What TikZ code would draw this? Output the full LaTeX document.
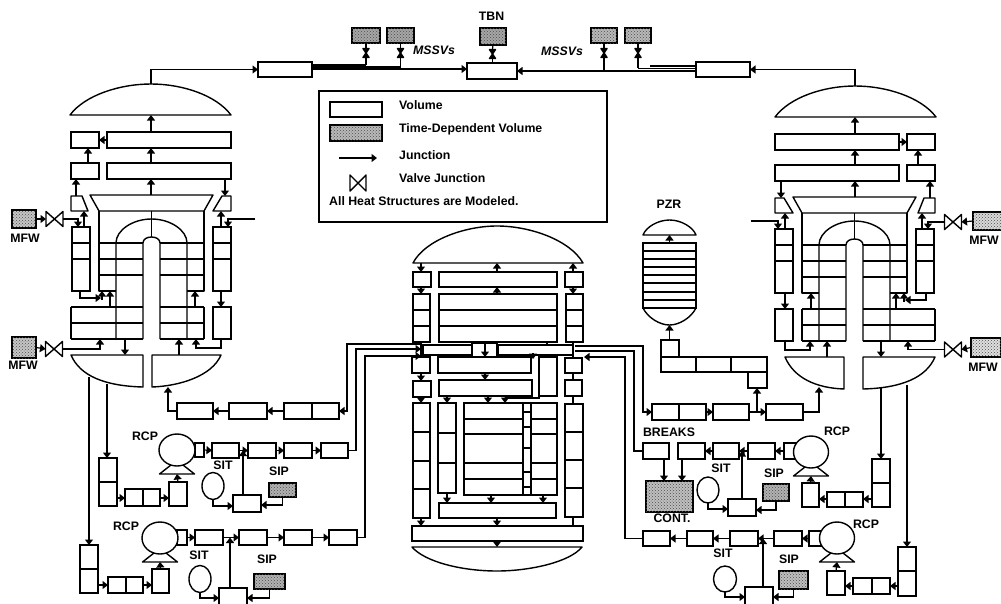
\documentclass[tikz,border=0pt]{standalone}
\usepackage{fontspec}
\setmainfont{Liberation Sans}
\usetikzlibrary{arrows.meta,shapes.geometric,patterns}
\tikzset{
  wall/.style={draw=black,line width=1.4pt,line join=round},
  vol/.style={draw=black,line width=1.4pt,fill=white,inner sep=0pt,outer sep=0pt,rectangle},
  tdv/.style={draw=black,line width=1.8pt,fill=gray!45,inner sep=0pt,outer sep=0pt,rectangle,postaction={pattern=crosshatch dots,pattern color=black!70}},
  jn/.style={draw=black,line width=1.2pt,-{Triangle[length=5.5pt,width=8pt]}},
  pl/.style={draw=black,line width=1.2pt},
  tank/.style={draw=black,line width=1.4pt,fill=white,ellipse,inner sep=0pt,outer sep=0pt},
  lab/.style={font=\fontsize{12.3}{13}\selectfont\bfseries,inner sep=0pt,text=black},
  bow/.style={inner sep=0pt,outer sep=0pt,rectangle}
}
\newcommand\V[5]{\node[vol,minimum width={(#4-#2)*1pt},minimum height={(#5-#3)*1pt}] (#1) at ({(#2+#4)/2},{(#3+#5)/2}) {};}
\newcommand\TD[6][gray!45]{\node[tdv,fill=#1,minimum width={(#5-#3)*1pt},minimum height={(#6-#4)*1pt}] (#2) at ({(#3+#5)/2},{(#4+#6)/2}) {};}
\newcommand\Col[5]{\foreach \yy [count=\ii, remember=\yy as \pp (initially #4)] in {#5} {\V{#1\ii}{#2}{\pp}{#3}{\yy}}}
\newcommand\Row[5]{\foreach \xx [count=\ii, remember=\xx as \pp (initially #2)] in {#5} {\V{#1\ii}{\pp}{#3}{\xx}{#4}}}
\newcommand\ValveH[5]{\node[bow,minimum width={#4*1pt},minimum height={#5*1pt}] (#1) at (#2,#3) {};
  \draw[wall] (#1.north west)--(#1.south east)--(#1.north east)--(#1.south west)--cycle;}
\newcommand\ValveV[5]{\node[bow,minimum width={#4*1pt},minimum height={#5*1pt}] (#1) at (#2,#3) {};
  \draw[wall,fill=black] (#1.north west)--(#1.north east)--(#1.south west)--(#1.south east)--cycle;}
\newcommand\Pump[5]{\coordinate (#1b) at (#2,#3+24);
  \draw[wall] ({#2-6},{#3+15}) -- ({#2-17.5},{#3+24}) -- ({#2+17.5},{#3+24}) -- ({#2+6},{#3+15});
  \node[tank,minimum width={#4*2pt},minimum height={#5*2pt}] (#1) at (#2,#3) {};}
% steam generator, drawn in left-hand coordinates
\newcommand\SG[3]{\begin{scope}[name prefix=#1-,#2]
  \coordinate (domet) at (151,84);
  \coordinate (domeb) at (151,115);
  \coordinate (axis) at (151,0);
  \draw[wall] (70,115) .. controls (85,95) and (120,84) .. (151,84) .. controls (182,84) and (216,95) .. (231,115) -- cycle;
  \V{a}{71}{132}{99}{148}
  \V{b}{107}{132}{231}{148}
  \V{c}{71}{163}{99}{179}
  \V{d}{107}{163}{231}{179}
  \coordinate (trt) at (151,195);
  \coordinate (stl) at (84,211);
  \coordinate (str) at (221,211);
  \coordinate (abr) at (99,140);
  \coordinate (abl) at (107,140);
  \draw[wall] (90,195) -- (213,195) -- (204,211) -- (99,211) -- cycle;
  \draw[wall] (71,196) -- (82,196) -- (88,211) -- (71,211) -- cycle;
  \draw[wall] (222,196) -- (231,196) -- (231,211) -- (213,211) -- cycle;
  \Col{lc}{72}{90}{227}{243,259,291}
  \Col{rc}{213}{231}{227}{243,259,291}
  \V{ro}{213}{307}{231}{339}
  % tube bundle
  \draw[wall] (99,211) -- (99,291) -- (116,291);
  \draw[wall] (204,211) -- (204,291) -- (187,291);
  \draw[wall] (116,339) -- (116,243) .. controls (116,230) and (133,219) .. (151.5,219) .. controls (170,219) and (187,230) .. (187,243) -- (187,339);
  \draw[wall] (143,339) -- (143,243) .. controls (143,239) and (147,237) .. (151.5,237) .. controls (156,237) and (160,239) .. (160,243) -- (160,339);
  \draw[wall] (151.5,211) -- (151.5,237);
  \foreach \yy in {243,259,275}{\draw[wall] (99,\yy) -- (143,\yy); \draw[wall] (160,\yy) -- (204,\yy);}
  \foreach \yy in {307,323,339}{\draw[wall] (71,\yy) -- (143,\yy); \draw[wall] (160,\yy) -- (204,\yy);}
  \draw[wall] (71,307) -- (71,339);
  \draw[wall] (204,307) -- (204,339);
  % plena
  \draw[wall] (71,355) -- (143,355) -- (143,387) .. controls (105,386) and (80,376) .. (71,355) -- cycle;
  \draw[wall] ({152+#3},355) -- (221,355) .. controls (212,376) and ({180+#3},386) .. ({152+#3},387) -- cycle;
  % junctions
  \draw[jn] (axis |- b.north) -- (domeb);
  \draw[jn] (axis |- d.north) -- (axis |- b.south);
  \draw[jn] (trt) -- (axis |- d.south);
  \draw[jn] (88,0 |- c.north) -- (88,0 |- a.south);
  \draw[jn] (abl) -- (abr);
  \draw[jn] (76,196) -- (76,0 |- c.south);
  \draw[jn] (225,0 |- d.south) -- (225,196);
  \draw[jn] (84,0 |- lc1.north) -- (stl);
  \draw[jn] (str |- rc1.north) -- (str);
  \coordinate (stub) at (255,219);
  \draw[jn] (stub) -| (228,0 |- rc1.north);
  \draw[jn] (80,0 |- lc3.south) |- (101,298);
  \draw[jn] (102,300) -- (102,291);
  \draw[jn] (110,307) -- (110,291);
  \draw[jn] (221,0 |- rc3.south) -- (221,0 |- ro.north);
  \draw[jn] (195,307) -- (195,291);
  \draw[jn] (221,0 |- ro.south) |- (196,348) -- (196,339);
  \draw[jn] (179,355) -- (179,339);
  \draw[jn] (125,339) -- (125,355);
\end{scope}}
\begin{document}
\begin{tikzpicture}[x=1pt,y=-1pt]
\clip (0,0) rectangle (1001,603);
\fill[white] (0,0) rectangle (1001,603);
\SG{L}{}{0}
\SG{R}{xshift=1006pt,yshift=-2pt,xscale=-1}{10}
% ---- top steam line
\V{sl}{258}{62}{312}{77}
\V{sr}{696}{62}{750}{77}
\V{tb}{467}{63}{517}{79}
\draw[jn] (L-domet) |- (sl.west);
\draw[jn] (R-domet) |- (sr.east);
\TD[gray!70]{tl1}{352}{28}{380}{43}
\TD[gray!70]{tl2}{387}{28}{414}{43}
\TD[gray!70]{tbn}{480}{28}{506}{45}
\TD[gray!55]{tr1}{591}{28}{617}{43}
\TD[gray!55]{tr2}{625}{28}{651}{43}
\ValveV{vl1}{366}{53}{6}{9}
\ValveV{vl2}{400.5}{53}{6}{9}
\ValveV{vt}{492.5}{54}{6}{9}
\ValveV{vr1}{604}{53}{6}{9}
\ValveV{vr2}{638}{53}{6}{9}
\draw[pl] (tl1.south) -- (vl1.north);
\draw[pl] (tl2.south) -- (vl2.north);
\draw[pl] (tbn.south) -- (vt.north);
\draw[pl] (tr1.south) -- (vr1.north);
\draw[pl] (tr2.south) -- (vr2.north);
\draw[pl] (vl1.south) -- (366,65);
\draw[pl] (vl2.south) -- (400.5,69);
\draw[pl] (vt.south) -- (tb.north -| vt.south);
\draw[pl] (vr1.south) -- (604,71);
\draw[pl] (vr2.south) -- (638,68);
\draw[pl] (312,65) -- (366,65);
\draw[pl] (312,67) -- (400,67);
\draw[jn] (312,69) -- (tb.west |- 0,69);
\draw[jn] (696,71) -- (tb.east |- 0,71);
\draw[pl] (696,68.5) -- (638,68.5);
\draw[pl] (696,66) -- (650,66);
% ---- labels top
\node[lab] (t-tbn) at (491.5,16) {TBN};
\node[lab] (t-ml) at (434,50) {\itshape MSSVs};
\node[lab] (t-mr) at (562,51) {\itshape MSSVs};
% ---- legend
\node[draw=black,line width=1.4pt,fill=white,minimum width=288pt,minimum height=131pt,inner sep=0pt] (legend) at (463,156.5) {};
\V{lgv}{330}{102}{382}{117}
\TD[gray!55]{lgt}{330}{125}{382}{141}
\coordinate (lgj1) at (339,158);
\coordinate (lgj2) at (377,158);
\draw[jn] (lgj1) -- (lgj2);
\ValveH{lgb}{358}{183}{16}{16}
\node[lab,anchor=west] (l1) at (399,105) {Volume};
\node[lab,anchor=west] (l2) at (399,129) {Time-Dependent Volume};
\node[lab,anchor=west] (l3) at (399,155) {Junction};
\node[lab,anchor=west] (l4) at (399,178) {Valve Junction};
\node[lab,anchor=west] (l5) at (329,201) {All Heat Structures are Modeled.};
% ---- MFW
\TD{ml1}{12}{210}{36}{228}
\ValveH{vml1}{54.5}{219}{17}{15}
\draw[jn] (ml1.east) -- (vml1.west);
\draw[jn] (vml1.east) -| (78,227);
\node[lab] (tml1) at (25,238) {MFW};
\TD{ml2}{12}{337}{36}{358}
\ValveH{vml2}{54}{349}{17}{15}
\draw[jn] (ml2.east) -- (vml2.west);
\draw[jn] (vml2.east) -| (100,339);
\node[lab] (tml2) at (23,365) {MFW};
\TD[gray!30]{mr1}{973}{212}{1003}{230}
\ValveH{vmr1}{953}{222}{17}{15}
\draw[jn] (mr1.west) -- (vmr1.east);
\draw[jn] (vmr1.west) -| (928,229);
\node[lab] (tmr1) at (984,240) {MFW};
\TD[gray!25]{mr2}{971}{338}{1001}{357}
\ValveH{vmr2}{953}{349.5}{17}{15}
\draw[jn] (mr2.west) -- (vmr2.east);
\draw[jn] (vmr2.west) -| (908,341);
\node[lab] (tmr2) at (983,367) {MFW};
% ---- reactor vessel
\draw[wall] (413,263) .. controls (425,240) and (465,226) .. (497,226) .. controls (530,226) and (570,240) .. (583,263) -- cycle;
\coordinate (rdl) at (421,263);
\coordinate (rdc) at (497,263);
\coordinate (rdr) at (573,263);
\V{r1}{413}{272}{431}{287}
\V{r2}{439}{272}{557}{287}
\V{r3}{565}{272}{583}{287}
\Col{cl}{413}{430}{294}{310,326,342}
\Col{cm}{439}{557}{294}{310,326,342}
\Col{cr}{566}{583}{294}{310,326,342}
\V{up1}{423}{345}{472}{355}
\Row{ump}{472}{343}{357}{485,497}
\V{up2}{498}{345}{573}{355}
\V{r4l}{412}{357}{430}{373}
\V{r4r}{565}{358}{582}{373}
\V{r5}{438}{357}{531}{373}
\V{tall}{539}{357}{557}{396}
\V{r6}{439}{380}{532}{396}
\V{r7l}{413}{381}{431}{397}
\V{r7r}{565}{380}{582}{396}
\Col{dl}{413}{430}{403}{432,461,489,518}
\Col{dr}{565}{583}{404}{432,460,488,517}
\Col{il}{438}{456}{403}{433,463,493}
\Col{core}{464}{523}{403}{419,434,463,479,495}
\Col{byp}{523}{531}{403}{412,427,448,472,487,495}
\Col{corr}{531}{557}{403}{419,434,463,479,495}
\V{lp}{439}{503}{556}{518}
\V{bx}{412}{526}{583}{541}
\draw[wall] (412,547) -- (582,547) .. controls (570,562) and (530,571) .. (497,571) .. controls (462,571) and (425,562) .. (412,547) -- cycle;
\coordinate (bdt) at (497,547);
\draw[jn] (rdl) -- (rdl |- r1.north);
\draw[jn] (rdc |- r2.north) -- (rdc);
\draw[jn] (rdr |- r3.north) -- (rdr);
\draw[jn] (rdl |- r1.south) -- (rdl |- cl1.north);
\draw[jn] (rdc |- cm1.north) -- (rdc |- r2.south);
\draw[jn] (rdr |- r3.south) -- (rdr |- cr1.north);
\draw[pl] (rdl |- cl3.south) -- (rdl |- r4l.north);
\draw[pl] (rdr |- cr3.south) -- (rdr |- r4r.north);
\draw[jn] (rdl |- r4l.south) -- (rdl |- r7l.north);
\draw[pl] (rdr |- r4r.south) -- (rdr |- r7r.north);
\draw[jn] (rdl |- r7l.south) -- (rdl |- dl1.north);
\draw[pl] (rdr |- r7r.south) -- (rdr |- dr1.north);
\draw[jn] (rdl |- dl4.south) -- (rdl |- bx.north);
\draw[pl] (rdr |- dr4.south) -- (rdr |- bx.north);
\draw[jn] (447,0 |- r6.south) -- (447,0 |- il1.north);
\draw[jn] (488,0 |- r6.south) -- (488,0 |- core1.north);
\draw[jn] (tall.south west) |- (505,398) -- (505,403);
\draw[jn] (485,0 |- r5.south) -- (485,0 |- r6.north);
\draw[jn] (447,0 |- il3.south) -- (447,0 |- lp.north);
\draw[jn] (491,0 |- core5.south) -- (491,0 |- lp.north);
\draw[jn] (543,0 |- corr5.south) -- (543,0 |- lp.north);
\draw[jn] (497,0 |- lp.south) -- (497,0 |- bx.north);
\draw[jn] (497,0 |- bx.south) -- (bdt);
\draw[jn] (485,0 |- ump1.north) -- (485,0 |- ump1.south);
\draw[pl] (547,0 |- cm3.south) -- (547,0 |- up2.north);
\draw[jn] (533,353) -- (533,359);
% ---- left hot leg
\V{h1}{177}{403}{213}{419}
\V{h2}{229}{403}{267}{419}
\Row{h3}{284}{403}{419}{312,339}
\coordinate (lpa) at (421,344);
\coordinate (lpb) at (421,349);
\coordinate (lpc) at (421,356);
\draw[jn] (lpa) -| (347,411) -- (h32.east |- 0,411);
\draw[jn] (h31.west) -- (h2.east);
\draw[jn] (h2.west) -- (h1.east);
\draw[jn] (h1.west) -| (168,387);
% ---- left loop 1
\V{o1}{195}{443}{204}{457}
\Pump{p1}{177}{450}{18}{16}
\V{c1}{212}{443}{239}{458}
\V{c2}{248}{443}{276}{458}
\V{c3}{284}{443}{312}{458}
\V{c4}{321}{443}{348}{458}
\draw[jn] (o1.east) -- (c1.west);
\draw[jn] (c1.east) -- (c2.west);
\draw[jn] (c2.east) -- (c3.west);
\draw[jn] (c3.east) -- (c4.west);
\draw[jn] (c4.east) -| (356,349) -- (lpb);
\node[tank,minimum width=22pt,minimum height=27pt] (sit1) at (213,486) {};
\V{si1}{233}{495}{261}{512}
\TD[gray!60]{sip1}{269}{483}{296}{497}
\draw[jn] (sit1.south) |- (si1.west |- 0,506);
\draw[jn] (243,0 |- si1.north) -- (243,0 |- c1.east);
\draw[jn] (sip1.south) |- (si1.east |- 0,505);
\Col{s1}{99}{117}{458}{482,506}
\Row{s2}{125}{489}{506}{143,160}
\V{s3}{169}{482}{187}{506}
\draw[jn] (107,384) -- (107,0 |- s11.north);
\draw[jn] (s12.east |- 0,498) -- (s21.west |- 0,498);
\draw[jn] (s22.east |- 0,498) -- (s3.west |- 0,498);
\draw[jn] (s3.north) -- (p1b);
\node[lab] (rcp1) at (145,436) {RCP};
\node[lab] (sit1t) at (223,465) {SIT};
\node[lab] (sip1t) at (279,471) {SIP};
% ---- left loop 2
\V{o2}{177}{530}{187}{545}
\Pump{p2}{160}{538}{18}{16}
\V{e1}{195}{530}{223}{545}
\V{e2}{239}{530}{267}{545}
\V{e3}{284}{530}{312}{545}
\V{e4}{329}{530}{357}{545}
\draw[jn] (o2.east) -- (e1.west);
\draw[jn] (e1.east) -- (e2.west);
\draw[jn] (e2.east) -- (e3.west);
\draw[jn] (e3.east) -- (e4.west);
\draw[jn] (e4.east) -| (365,356) -- (lpc);
\node[tank,minimum width=22pt,minimum height=27pt] (sit2) at (200,579) {};
\V{si2}{219}{588}{247}{610}
\TD[gray!60]{sip2}{254}{574}{285}{589}
\draw[jn] (sit2.south) |- (si2.west |- 0,598);
\draw[jn] (230,0 |- si2.north) -- (230,0 |- e1.east);
\draw[jn] (sip2.south) |- (si2.east |- 0,598);
\Col{t1}{80}{98}{545}{569,593}
\Row{t2}{108}{577}{593}{126,143}
\V{t3}{152}{569}{169}{593}
\draw[jn] (89,377) -- (89,0 |- t11.north);
\draw[jn] (t12.east |- 0,585) -- (t21.west |- 0,585);
\draw[jn] (t22.east |- 0,585) -- (t3.west |- 0,585);
\draw[jn] (t3.north) -- (p2b);
\node[lab] (rcp2) at (126,526) {RCP};
\node[lab] (sit2t) at (199,555) {SIT};
\node[lab] (sip2t) at (267,559) {SIP};
% ---- PZR
\node[lab] (pzrt) at (669,204) {PZR};
\draw[wall] (643,235) .. controls (646,227) and (658,220) .. (669.5,220) .. controls (681,220) and (693,227) .. (696,235) -- cycle;
\Col{pz}{643}{696}{243}{251,259,267,275,283,292,300,308}
\draw[wall] (643,308) .. controls (648,318) and (660,325) .. (669.5,325) .. controls (679,325) and (691,318) .. (696,308);
\coordinate (pzb) at (669.5,325);
\coordinate (pzd) at (669.5,235);
\V{ps}{661}{340}{679}{357}
\Row{pr}{661}{357}{372}{696,731,767}
\V{pu}{748}{372}{767}{388}
\draw[jn] (669.5,0 |- pz1.north) -- (pzd);
\draw[jn] (669.5,0 |- ps.north) -- (pzb);
% ---- right hot leg
\coordinate (rpa) at (575,346);
\coordinate (rpb) at (575,351);
\coordinate (rpc) at (584,357);
\Row{g1}{652}{404}{420}{679,706}
\V{g2}{713}{404}{749}{420}
\V{g3}{766}{404}{803}{420}
\draw[jn] (rpa) -| (643,412) -- (g11.west |- 0,412);
\draw[jn] (g12.east) -- (g2.west);
\draw[jn] (g2.east) -- (g3.west);
\draw[jn] (757,0 |- g2.east) -- (757,0 |- pu.south);
\draw[jn] (g3.east) -| (819,387);
% ---- right loop 1
\V{b1}{643}{443}{669}{459}
\V{b2}{678}{443}{705}{459}
\V{b3}{713}{443}{739}{459}
\V{b4}{748}{443}{775}{459}
\V{o3}{784}{443}{797}{459}
\Pump{p3}{811}{452}{17.5}{16}
\TD[gray!50]{cont}{646}{481}{693}{512}
\draw[pl] (rpb) -| (634,451) -- (b1.west);
\draw[jn] (o3.west) -- (b4.east);
\draw[jn] (b4.west) -- (b3.east);
\draw[jn] (b3.west) -- (b2.east);
\draw[jn] (664,0 |- b1.south) -- (664,0 |- cont.north);
\draw[jn] (682,0 |- b2.south) -- (682,0 |- cont.north);
\node[tank,minimum width=22pt,minimum height=26pt] (sit3) at (708,490) {};
\V{si3}{728}{499}{756}{516}
\TD[gray!60]{sip3}{763}{484}{789}{501}
\draw[jn] (sit3.south) |- (si3.west |- 0,509);
\draw[jn] (742,0 |- si3.north) -- (742,0 |- b3.east);
\draw[jn] (sip3.south) |- (si3.east |- 0,510);
\Col{u1}{872}{890}{459}{483,507}
\Row{u2}{827}{492}{507}{845,863}
\V{u3}{802}{483}{819}{507}
\draw[jn] (881,388) -- (881,0 |- u11.north);
\draw[jn] (u12.west |- 0,499) -- (u22.east |- 0,499);
\draw[jn] (u21.west |- 0,499) -- (u3.east |- 0,499);
\draw[jn] (u3.north) -- (p3b);
\node[lab] (breaks) at (669,432) {BREAKS};
\node[lab] (contt) at (672,518) {CONT.};
\node[lab] (sit3t) at (721,468) {SIT};
\node[lab] (sip3t) at (774,473) {SIP};
\node[lab] (rcp3) at (837,431) {RCP};
% ---- right loop 2
\V{f1}{643}{531}{670}{546}
\V{f2}{687}{531}{713}{546}
\V{f3}{730}{531}{758}{546}
\V{f4}{774}{531}{802}{546}
\V{o4}{809}{531}{823}{546}
\Pump{p4}{837}{538}{17.5}{16}
\draw[jn] (f1.west) -| (625,357) -- (rpc);
\draw[jn] (o4.west) -- (f4.east);
\draw[jn] (f4.west) -- (f3.east);
\draw[jn] (f3.west) -- (f2.east);
\draw[jn] (f2.west) -- (f1.east);
\node[tank,minimum width=23pt,minimum height=26pt] (sit4) at (725,579) {};
\V{si4}{745}{587}{773}{610}
\TD[gray!50]{sip4}{779}{571}{808}{589}
\draw[jn] (sit4.south) |- (si4.west |- 0,597);
\draw[jn] (763,0 |- si4.north) -- (763,0 |- f3.east);
\draw[jn] (sip4.south) |- (si4.east |- 0,597);
\Col{w1}{898}{916}{547}{571,596}
\Row{w2}{853}{578}{594}{872,890}
\V{w3}{827}{571}{845}{595}
\draw[jn] (907,385) -- (907,0 |- w11.north);
\draw[jn] (w12.west |- 0,586) -- (w22.east |- 0,586);
\draw[jn] (w21.west |- 0,586) -- (w3.east |- 0,586);
\draw[jn] (w3.north) -- (p4b);
\node[lab] (sit4t) at (723,553) {SIT};
\node[lab] (sip4t) at (789,559) {SIP};
\node[lab] (rcp4) at (866,524) {RCP};
\end{tikzpicture}
\end{document}
